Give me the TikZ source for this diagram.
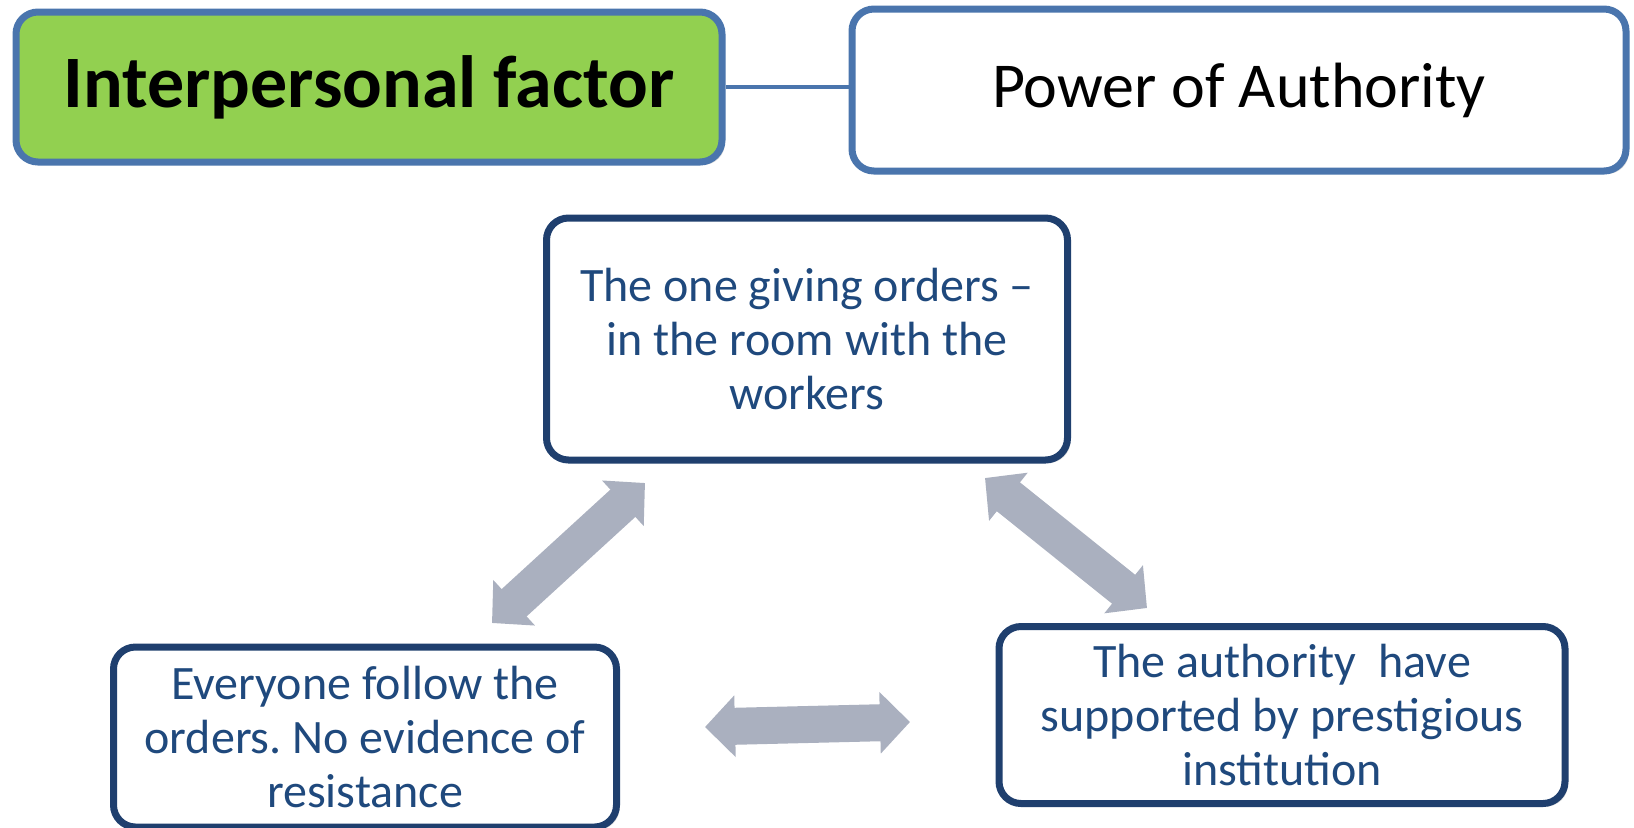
\documentclass[tikz,border=0pt]{standalone}
\usepackage{fontspec}
\setmainfont{Carlito}
\usetikzlibrary{arrows.meta,shadows}
\frenchspacing
\definecolor{headline}{HTML}{4A75AD}
\definecolor{headfill}{HTML}{92D050}
\definecolor{boxline}{HTML}{1F3F6E}
\definecolor{boxtext}{HTML}{1F497D}
\definecolor{arrowgray}{HTML}{AAB0BF}
\tikzstyle{head} = [rectangle, draw=headline, line width=3.5pt, rounded corners=11pt,
    drop shadow={shadow xshift=1.5pt, shadow yshift=-1.5pt, opacity=0.3}]
\tikzstyle{block} = [rectangle, draw=boxline, fill=white, line width=3.5pt, rounded corners=11pt,
    text=boxtext, align=center, font=\fontsize{24}{27}\selectfont,
    drop shadow={shadow xshift=1.5pt, shadow yshift=-1.5pt, opacity=0.3}]
\tikzstyle{link} = [draw=arrowgray, line width=18.5pt,
    arrows={Triangle[length=15pt,width=30pt]-Triangle[length=15pt,width=30pt]}]

\begin{document}
\begin{tikzpicture}[x=0.5pt, y=-0.5pt]
		\useasboundingbox (0,0) rectangle (1634,827);
		\node [head, fill=headfill, minimum width=353pt, minimum height=75pt,
			font=\fontsize{37}{40}\selectfont\bfseries] (factor) at (369,87) {Interpersonal factor};
		\node [head, fill=white, minimum width=387pt, minimum height=81pt,
			font=\fontsize{32}{36}\selectfont] (power) at (1239,90) {Power of Authority};
		\draw [headline, line width=2pt] (factor.east) -- (factor.east -| power.west);
		
		\node [block, minimum width=260.5pt, minimum height=121pt] (room) at (807,339)
			{The one giving orders --\\in the room with the\\workers};
		\node [block, minimum width=251.5pt, minimum height=90pt] (follow) at (365,737)
			{Everyone follow the\\orders. No evidence of\\resistance};
		\node [block, minimum width=283pt, minimum height=88.5pt] (support) at (1282,715)
			{The authority\ \ have\\supported by prestigious\\institution};
		
		\coordinate (room-l) at (645,483);
		\coordinate (follow-t) at (492,623);
		\coordinate (room-r) at (985,478);
		\coordinate (support-t) at (1147,608);
		\coordinate (follow-r) at (705,727);
		\coordinate (support-l) at (910,722);
		\path [link] (room-l) -- (follow-t);
		\path [link] (room-r) -- (support-t);
		\path [link] (follow-r) -- (support-l);
	\end{tikzpicture}
\end{document}
